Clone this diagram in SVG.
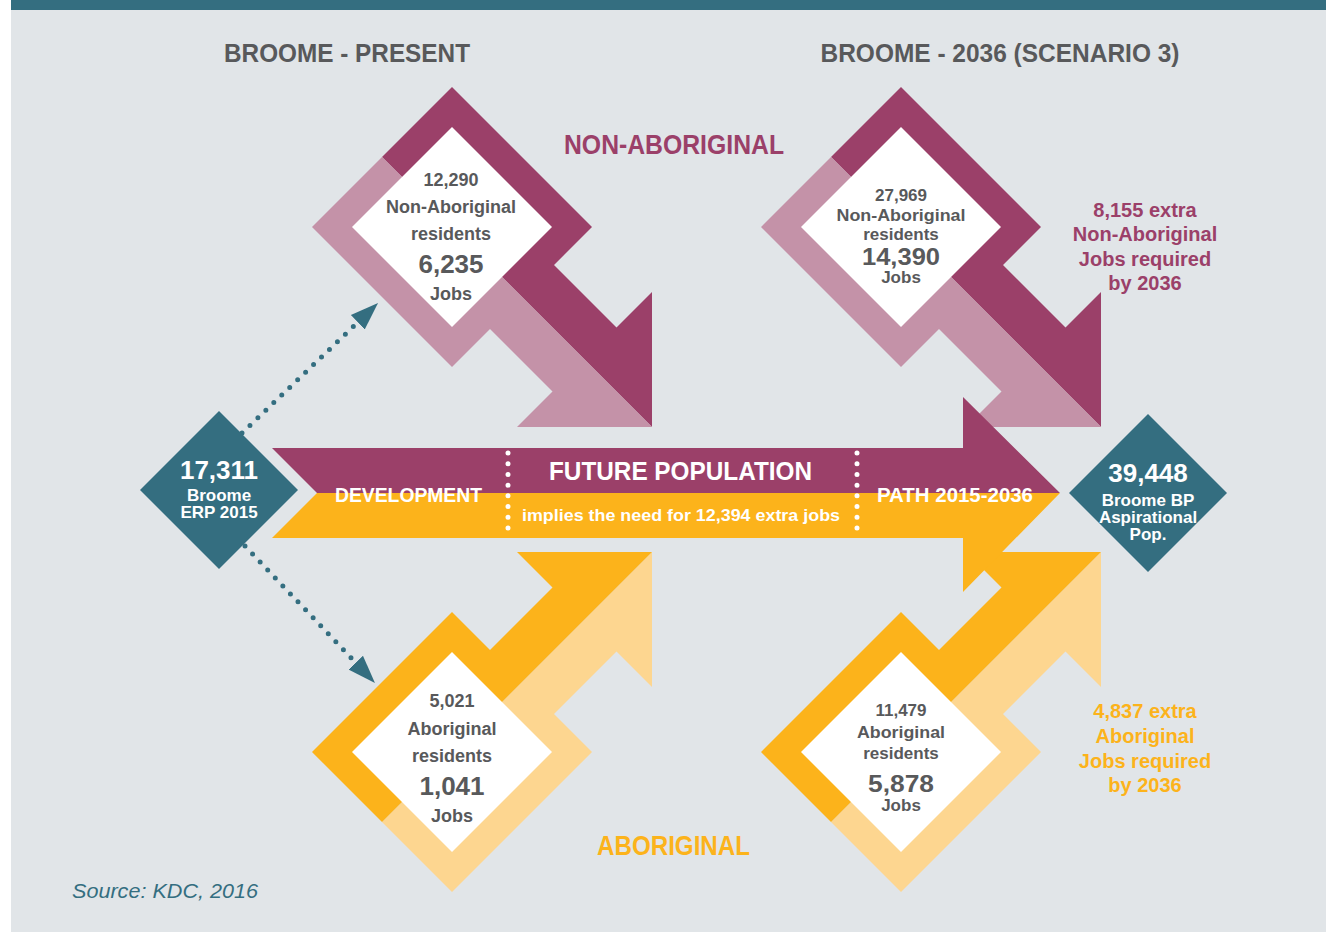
<svg xmlns="http://www.w3.org/2000/svg" xmlns:xlink="http://www.w3.org/1999/xlink" width="1326" height="933" viewBox="0 0 1326 933">
<style>
text{font-family:"Liberation Sans",Arial,sans-serif;font-weight:bold;text-anchor:middle}
.nt{fill:#58595b;font-size:18px}
.sm{font-size:17px}
.big{font-size:26px}
.bg2{font-size:24px}
.hd{fill:#58595b;font-size:26px}
.wt{fill:#ffffff}
.dk{font-size:17px}
.pu{fill:#9b4069}
.pk{fill:#c492a8}
.or{fill:#fcb31b}
.lo{fill:#fdd690}
.tl{fill:#346e80}
.ann{font-size:20px}
.dots{fill:none;stroke-linecap:round}
</style>
<defs>
<polygon id="partA" points="-70,-70 0,-140 140,0 102,38 164.5,100.5 200,65 200,200"/>
<polygon id="partB" points="-70,-70 200,200 65,200 100.5,164.5 38,102 0,140 -140,0"/>
<polygon id="hole" points="0,-100 100,0 0,100 -100,0" fill="#ffffff"/>
<marker id="ah" markerUnits="userSpaceOnUse" markerWidth="30" markerHeight="22" viewBox="0 -11 30 22" refX="0" refY="0" orient="auto">
<path d="M0,-10 L28,0 L0,10 Z" fill="#346e80"/>
</marker>
</defs>
<rect x="0" y="0" width="1326" height="933" fill="#ffffff"/>
<rect x="11" y="10" width="1315" height="922" fill="#e1e5e8"/>
<rect x="11" y="0" width="1315" height="10" fill="#346e80"/>

<text class="hd" x="347" y="62" textLength="246" lengthAdjust="spacingAndGlyphs">BROOME - PRESENT</text>
<text class="hd" x="1000" y="62" textLength="359" lengthAdjust="spacingAndGlyphs">BROOME - 2036 (SCENARIO 3)</text>
<text class="pu" x="674" y="154" font-size="27" textLength="220" lengthAdjust="spacingAndGlyphs">NON-ABORIGINAL</text>
<text class="or" x="673.5" y="855" font-size="27" textLength="153" lengthAdjust="spacingAndGlyphs">ABORIGINAL</text>

<g id="node-present-nonaboriginal">
<g transform="translate(452,227)">
<use xlink:href="#partA" class="pu"/>
<use xlink:href="#partB" class="pk"/>
<use xlink:href="#hole"/>
</g>
<text class="nt" x="451" y="186">12,290</text>
<text class="nt" x="451" y="213">Non-Aboriginal</text>
<text class="nt" x="451" y="240">residents</text>
<text class="nt big" x="451" y="273">6,235</text>
<text class="nt" x="451" y="300">Jobs</text>
</g>

<g id="node-2036-nonaboriginal">
<g transform="translate(901,227)">
<use xlink:href="#partA" class="pu"/>
<use xlink:href="#partB" class="pk"/>
<use xlink:href="#hole"/>
</g>
<text class="nt sm" x="901" y="201">27,969</text>
<text class="nt sm" x="901" y="221" textLength="129" lengthAdjust="spacingAndGlyphs">Non-Aboriginal</text>
<text class="nt sm" x="901" y="240">residents</text>
<text class="nt bg2" x="901" y="265" textLength="78" lengthAdjust="spacingAndGlyphs">14,390</text>
<text class="nt sm" x="901" y="283">Jobs</text>
</g>

<g id="node-present-aboriginal">
<g transform="translate(452,752) scale(1,-1)">
<use xlink:href="#partA" class="lo"/>
<use xlink:href="#partB" class="or"/>
<use xlink:href="#hole"/>
</g>
<text class="nt" x="452" y="707">5,021</text>
<text class="nt" x="452" y="735">Aboriginal</text>
<text class="nt" x="452" y="762">residents</text>
<text class="nt big" x="452" y="795">1,041</text>
<text class="nt" x="452" y="822">Jobs</text>
</g>

<g id="node-2036-aboriginal">
<g transform="translate(901,752) scale(1,-1)">
<use xlink:href="#partA" class="lo"/>
<use xlink:href="#partB" class="or"/>
<use xlink:href="#hole"/>
</g>
<text class="nt sm" x="901" y="716">11,479</text>
<text class="nt sm" x="901" y="738" textLength="88" lengthAdjust="spacingAndGlyphs">Aboriginal</text>
<text class="nt sm" x="901" y="759">residents</text>
<text class="nt bg2" x="901" y="792" textLength="66" lengthAdjust="spacingAndGlyphs">5,878</text>
<text class="nt sm" x="901" y="811">Jobs</text>
</g>

<g id="main-arrow">
<polygon class="pu" points="272,448 963,448 963,397 1060,493 317,493"/>
<polygon class="or" points="317,493 1060,493 963,592 963,538 272,538"/>
<line class="dots" x1="508" y1="453" x2="508" y2="528" stroke="#ffffff" stroke-width="5" stroke-dasharray="0 10.71"/>
<line class="dots" x1="857" y1="453" x2="857" y2="528" stroke="#ffffff" stroke-width="5" stroke-dasharray="0 10.71"/>
<text class="wt" x="408.5" y="502" font-size="20" textLength="147" lengthAdjust="spacingAndGlyphs">DEVELOPMENT</text>
<text class="wt" x="680.5" y="480" font-size="25" textLength="263" lengthAdjust="spacingAndGlyphs">FUTURE POPULATION</text>
<text class="wt" x="681" y="521" font-size="17" textLength="318" lengthAdjust="spacingAndGlyphs">implies the need for 12,394 extra jobs</text>
<text class="wt" x="955" y="502" font-size="20" textLength="156" lengthAdjust="spacingAndGlyphs">PATH 2015-2036</text>
</g>

<g id="connectors">
<line class="dots" x1="242" y1="433" x2="357.8" y2="322.3" stroke="#346e80" stroke-width="5" stroke-dasharray="0 11" marker-end="url(#ah)"/>
<line class="dots" x1="245" y1="546" x2="355.7" y2="662.7" stroke="#346e80" stroke-width="5" stroke-dasharray="0 11" marker-end="url(#ah)"/>
</g>

<g id="node-erp2015">
<polygon class="tl" points="219,411 298,490 219,569 140,490"/>
<text class="wt big" x="219" y="479">17,311</text>
<text class="wt dk" x="219" y="501">Broome</text>
<text class="wt dk" x="219" y="518">ERP 2015</text>
</g>

<g id="node-aspirational">
<polygon class="tl" points="1148,414 1227,493 1148,572 1069,493"/>
<text class="wt big" x="1148" y="482">39,448</text>
<text class="wt dk" x="1148" y="506">Broome BP</text>
<text class="wt dk" x="1148" y="523">Aspirational</text>
<text class="wt dk" x="1148" y="540">Pop.</text>
</g>

<g id="note-nonaboriginal">
<text class="pu ann" x="1145" y="217">8,155 extra</text>
<text class="pu ann" x="1145" y="241">Non-Aboriginal</text>
<text class="pu ann" x="1145" y="266">Jobs required</text>
<text class="pu ann" x="1145" y="290">by 2036</text>
</g>

<g id="note-aboriginal">
<text class="or ann" x="1145" y="718">4,837 extra</text>
<text class="or ann" x="1145" y="743">Aboriginal</text>
<text class="or ann" x="1145" y="768">Jobs required</text>
<text class="or ann" x="1145" y="792">by 2036</text>
</g>

<text class="tl" x="72" y="898" font-size="20" font-style="italic" style="text-anchor:start;font-weight:normal" textLength="186" lengthAdjust="spacingAndGlyphs">Source: KDC, 2016</text>
</svg>
